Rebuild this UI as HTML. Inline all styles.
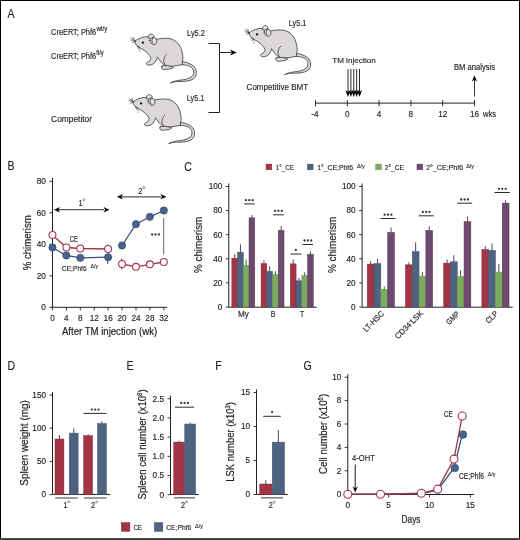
<!DOCTYPE html><html><head><meta charset="utf-8"><style>html,body{margin:0;padding:0;background:#fff;}svg{display:block;font-family:"Liberation Sans",sans-serif;will-change:transform;} text{stroke:#231f20;stroke-width:0.15px;} text[font-size="10.6"],text[font-size="10"]{stroke-width:0.2px;}</style></head><body>
<svg width="520" height="540" viewBox="0 0 520 540" fill="#231f20">
<rect x="0" y="0" width="520" height="540" fill="#fff"/>
<defs><g id="m"><g stroke="#2e2e2e" stroke-width="0.75" stroke-linejoin="round" stroke-linecap="round" fill="#dcd8d8">
<path d="M181.8,61.6 C186.5,62.2 191.5,63.6 194.6,67.2 C197.2,70.6 196.9,75.8 193.9,78.5 C190.6,81.1 184.5,81.6 178.5,81.5 C175.5,81.5 172.8,82 170.4,83 C172.8,81.6 175.6,80.8 179,80.3 C184.5,79.8 189.4,78.8 192,76.4 C194.3,74 194.2,70.3 192.1,67.9 C189.5,65.2 185.5,64.8 182,64.8 Z"/>
<path d="M134.8,41.3 C136.6,39.6 140,37.8 144,37 C148,36.3 152.5,36.6 156.5,39.3 C160.5,38.4 166,37.6 171,38.9 C176.5,40.5 180.6,45.5 182,51.5 C183.2,56 183.1,59.8 182.4,61.8 L182.2,64.6 C179,65.3 175.5,65.8 172,66.2 L167,66.3 C163.5,65 161,62.5 159.6,60.2 C158.7,58.6 158,57.4 157.4,57 C156.9,59 156.1,61 154.9,62.5 C153.3,64.3 150.6,65.3 148.1,65.1 C146,64.8 145.7,62.9 147.5,62.1 C149.5,61.3 150.9,59.8 150.9,57.8 C149.6,54.8 146.8,52.2 143.8,50 C141.8,48.7 139.8,48 138,46.8 C136.4,45.6 135.3,43.6 134.8,41.3 Z"/>
<path fill="none" d="M166.6,54.4 C164.6,55.9 163.5,59 163.8,62 C164,63.5 165,64.8 166,65.5"/>
<path d="M162,66 C165,65.2 170,65.7 173.6,67.2 C172.6,68.8 168,69.3 163.5,69.6 C161.5,69.3 161,67 162,66 Z"/>
<path fill="#e8e6e7" d="M148.1,37.6 C148.2,35.2 149.7,33.9 151.1,33.9 C152.7,33.9 153.9,35.2 154.1,36.8 L151,38.4 Z"/>
<path fill="#e2e0e1" d="M150,40.6 C149.8,38.6 151,37.4 152.8,37.5 C155,37.6 156.8,39 156.8,41.2 C156.8,43.4 155.3,44.7 153.7,44.6 C151.8,44.5 150.2,42.6 150,40.6 Z"/>
<path fill="none" d="M152.7,38.2 C151.6,39.6 151.6,41.9 152.9,43.3"/>
<circle cx="142.9" cy="42.7" r="1.15" fill="#111" stroke="none"/>
<path fill="none" stroke-width="0.55" d="M135,41.2 L130.8,37.8 M135,41.4 L130.6,40 M134.9,41.6 L132,42.8 M134.8,41 L133.6,37.4 M135.1,41.2 L132.6,38.6"/>
<path fill="none" stroke-width="1.1" d="M137.5,46.2 L139.4,47.4"/>
<path fill="none" stroke="#8a8a8a" stroke-width="0.65" d="M137.9,46.8 L138.4,49.3 M139.6,47.8 L139.9,52"/>
</g>
</g></defs>
<text font-size="12.6" transform="translate(7.5 17.6) scale(0.84 1)">A</text>
<text font-size="12.6" transform="translate(7.6 170.3) scale(0.84 1)">B</text>
<text font-size="12.6" transform="translate(184.2 170.8) scale(0.84 1)">C</text>
<text font-size="12.6" transform="translate(7.6 369.8) scale(0.84 1)">D</text>
<text font-size="12.6" transform="translate(126.5 369.5) scale(0.84 1)">E</text>
<text font-size="12.6" transform="translate(215.3 369.8) scale(0.84 1)">F</text>
<text font-size="12.6" transform="translate(303.6 369.8) scale(0.84 1)">G</text>
<text x="51.1" y="34.8" font-size="8.3" textLength="45" lengthAdjust="spacingAndGlyphs">CreERT; Phf6</text>
<text x="96.4" y="30.8" font-size="6.3" textLength="11" lengthAdjust="spacingAndGlyphs">wt/y</text>
<text x="51.1" y="59" font-size="8.3" textLength="45" lengthAdjust="spacingAndGlyphs">CreERT; Phf6</text>
<text x="96.3" y="55" font-size="6.3" textLength="7.4" lengthAdjust="spacingAndGlyphs">fl/y</text>
<text x="51.1" y="121.9" font-size="8.3" textLength="40.9" lengthAdjust="spacingAndGlyphs">Competitor</text>
<text x="187" y="35.5" font-size="8.3" textLength="18" lengthAdjust="spacingAndGlyphs">Ly5.2</text>
<text x="186.8" y="100.8" font-size="8.3" textLength="17.5" lengthAdjust="spacingAndGlyphs">Ly5.1</text>
<text x="288.8" y="26" font-size="8.3" textLength="17.4" lengthAdjust="spacingAndGlyphs">Ly5.1</text>
<text x="246.6" y="90.2" font-size="8.3" textLength="61.5" lengthAdjust="spacingAndGlyphs">Competitive BMT</text>
<use href="#m"/>
<use href="#m" transform="translate(-1.8,60.7)"/>
<use href="#m" transform="translate(114.2,-8.3)"/>
<path d="M208.5,43.5 H219.5 V112.5 H208.5" fill="none" stroke="#231f20" stroke-width="1"/>
<line x1="219.5" y1="52.5" x2="231.5" y2="52.5" stroke="#231f20" stroke-width="1"/>
<path d="M236.8,52.5 L230,49.5 L231.9,52.5 L230,55.5 Z" fill="#000"/>
<line x1="315.5" y1="103.1" x2="474.5" y2="103.1" stroke="#231f20" stroke-width="1"/>
<line x1="315.5" y1="100" x2="315.5" y2="106.3" stroke="#231f20" stroke-width="0.9"/>
<text font-size="8.2" transform="translate(315 116.7) scale(1 1)" text-anchor="middle">-4</text>
<line x1="347.3" y1="100" x2="347.3" y2="106.3" stroke="#231f20" stroke-width="0.9"/>
<text font-size="8.2" transform="translate(347.3 116.7) scale(1 1)" text-anchor="middle">0</text>
<line x1="379.1" y1="100" x2="379.1" y2="106.3" stroke="#231f20" stroke-width="0.9"/>
<text font-size="8.2" transform="translate(379.1 116.7) scale(1 1)" text-anchor="middle">4</text>
<line x1="410.9" y1="100" x2="410.9" y2="106.3" stroke="#231f20" stroke-width="0.9"/>
<text font-size="8.2" transform="translate(410.9 116.7) scale(1 1)" text-anchor="middle">8</text>
<line x1="442.7" y1="100" x2="442.7" y2="106.3" stroke="#231f20" stroke-width="0.9"/>
<text font-size="8.2" transform="translate(442.7 116.7) scale(1 1)" text-anchor="middle">12</text>
<line x1="474.5" y1="100" x2="474.5" y2="106.3" stroke="#231f20" stroke-width="0.9"/>
<text font-size="8.2" transform="translate(474.5 116.7) scale(1 1)" text-anchor="middle">16</text>
<text x="483" y="116.7" font-size="8.2" textLength="13" lengthAdjust="spacingAndGlyphs">wks</text>
<text x="332.2" y="63.4" font-size="8" textLength="43.6" lengthAdjust="spacingAndGlyphs">TM injection</text>
<line x1="348" y1="69" x2="348" y2="92" stroke="#000" stroke-width="0.85"/>
<path d="M348,96.9 L345.4,90.1 L348,92 L350.6,90.1 Z" fill="#000"/>
<line x1="350.88" y1="69" x2="350.88" y2="92" stroke="#000" stroke-width="0.85"/>
<path d="M350.88,96.9 L348.28,90.1 L350.88,92 L353.48,90.1 Z" fill="#000"/>
<line x1="353.76" y1="69" x2="353.76" y2="92" stroke="#000" stroke-width="0.85"/>
<path d="M353.76,96.9 L351.16,90.1 L353.76,92 L356.36,90.1 Z" fill="#000"/>
<line x1="356.64" y1="69" x2="356.64" y2="92" stroke="#000" stroke-width="0.85"/>
<path d="M356.64,96.9 L354.04,90.1 L356.64,92 L359.24,90.1 Z" fill="#000"/>
<line x1="359.52" y1="69" x2="359.52" y2="92" stroke="#000" stroke-width="0.85"/>
<path d="M359.52,96.9 L356.92,90.1 L359.52,92 L362.12,90.1 Z" fill="#000"/>
<line x1="474.5" y1="96.5" x2="474.5" y2="80" stroke="#231f20" stroke-width="0.9"/>
<path d="M474.5,75.5 L471.8,81.5 L474.5,79.82 L477.2,81.5 Z" fill="#000"/>
<text x="453.9" y="69.9" font-size="8.2" textLength="41.2" lengthAdjust="spacingAndGlyphs">BM analysis</text>
<path d="M52.5,178 V307.3 H167" fill="none" stroke="#231f20" stroke-width="1"/>
<line x1="49.5" y1="307.3" x2="52.5" y2="307.3" stroke="#231f20" stroke-width="0.9"/>
<text font-size="8.2" transform="translate(45.8 310.1) scale(1 1)" text-anchor="end">0</text>
<line x1="49.5" y1="275.8" x2="52.5" y2="275.8" stroke="#231f20" stroke-width="0.9"/>
<text font-size="8.2" transform="translate(45.8 278.6) scale(1 1)" text-anchor="end">20</text>
<line x1="49.5" y1="244.3" x2="52.5" y2="244.3" stroke="#231f20" stroke-width="0.9"/>
<text font-size="8.2" transform="translate(45.8 247.1) scale(1 1)" text-anchor="end">40</text>
<line x1="49.5" y1="212.8" x2="52.5" y2="212.8" stroke="#231f20" stroke-width="0.9"/>
<text font-size="8.2" transform="translate(45.8 215.6) scale(1 1)" text-anchor="end">60</text>
<line x1="49.5" y1="181.3" x2="52.5" y2="181.3" stroke="#231f20" stroke-width="0.9"/>
<text font-size="8.2" transform="translate(45.8 184.1) scale(1 1)" text-anchor="end">80</text>
<line x1="52.45" y1="307.3" x2="52.45" y2="310.4" stroke="#231f20" stroke-width="0.9"/>
<text font-size="8.2" transform="translate(52.45 320.9) scale(1 1)" text-anchor="middle">0</text>
<line x1="66.37" y1="307.3" x2="66.37" y2="310.4" stroke="#231f20" stroke-width="0.9"/>
<text font-size="8.2" transform="translate(66.37 320.9) scale(1 1)" text-anchor="middle">4</text>
<line x1="80.29" y1="307.3" x2="80.29" y2="310.4" stroke="#231f20" stroke-width="0.9"/>
<text font-size="8.2" transform="translate(80.29 320.9) scale(1 1)" text-anchor="middle">8</text>
<line x1="94.21" y1="307.3" x2="94.21" y2="310.4" stroke="#231f20" stroke-width="0.9"/>
<text font-size="8.2" transform="translate(94.21 320.9) scale(1 1)" text-anchor="middle">12</text>
<line x1="108.13" y1="307.3" x2="108.13" y2="310.4" stroke="#231f20" stroke-width="0.9"/>
<text font-size="8.2" transform="translate(108.13 320.9) scale(1 1)" text-anchor="middle">16</text>
<line x1="122.05" y1="307.3" x2="122.05" y2="310.4" stroke="#231f20" stroke-width="0.9"/>
<text font-size="8.2" transform="translate(122.05 320.9) scale(1 1)" text-anchor="middle">20</text>
<line x1="135.97" y1="307.3" x2="135.97" y2="310.4" stroke="#231f20" stroke-width="0.9"/>
<text font-size="8.2" transform="translate(135.97 320.9) scale(1 1)" text-anchor="middle">24</text>
<line x1="149.89" y1="307.3" x2="149.89" y2="310.4" stroke="#231f20" stroke-width="0.9"/>
<text font-size="8.2" transform="translate(149.89 320.9) scale(1 1)" text-anchor="middle">28</text>
<line x1="163.81" y1="307.3" x2="163.81" y2="310.4" stroke="#231f20" stroke-width="0.9"/>
<text font-size="8.2" transform="translate(163.81 320.9) scale(1 1)" text-anchor="middle">32</text>
<text x="61.9" y="335.3" font-size="10.6" textLength="95.3" lengthAdjust="spacingAndGlyphs">After TM injection (wk)</text>
<text x="31.2" y="270.3" font-size="10.6" textLength="55.1" lengthAdjust="spacingAndGlyphs" transform="rotate(-90 31.2 270.3)">% chimerism</text>
<line x1="56" y1="209.7" x2="104" y2="209.7" stroke="#333" stroke-width="1"/>
<path d="M54,209.7 L60,206.9 L58.32,209.7 L60,212.5 Z" fill="#000"/>
<path d="M109.5,209.7 L103.5,206.9 L105.18,209.7 L103.5,212.5 Z" fill="#000"/>
<text font-size="8.2" transform="translate(78.6 205.9) scale(0.9 1)">1</text>
<circle cx="83.8" cy="199.83" r="0.95" fill="none" stroke="#6a6a6a" stroke-width="0.75"/>
<line x1="119" y1="196.8" x2="161" y2="196.8" stroke="#555" stroke-width="1.2"/>
<path d="M116.9,196.8 L122.9,194 L121.22,196.8 L122.9,199.6 Z" fill="#000"/>
<path d="M166.4,196.8 L160.4,194 L162.08,196.8 L160.4,199.6 Z" fill="#000"/>
<text font-size="8.2" transform="translate(138.2 193.6) scale(0.9 1)">2</text>
<circle cx="143.8" cy="187.53" r="0.95" fill="none" stroke="#6a6a6a" stroke-width="0.75"/>
<line x1="163.7" y1="218" x2="163.7" y2="254.5" stroke="#555" stroke-width="0.9"/>
<circle cx="152.15" cy="234.5" r="1.15" fill="#353535"/>
<circle cx="155.5" cy="234.5" r="1.15" fill="#353535"/>
<circle cx="158.85" cy="234.5" r="1.15" fill="#353535"/>
<line x1="107.8" y1="257" x2="107.8" y2="264" stroke="#444" stroke-width="1"/>
<line x1="107.8" y1="244.5" x2="107.8" y2="249" stroke="#444" stroke-width="1"/>
<line x1="121.8" y1="258.5" x2="121.8" y2="269.5" stroke="#444" stroke-width="1"/>
<path d="M52.45,235 L66.37,247.5 L80.29,248.5 L108.13,249" fill="none" stroke="#a5354a" stroke-width="1.3"/>
<path d="M52.45,247.5 L66.37,255.5 L80.29,257.8 L108.13,257.2" fill="none" stroke="#34507a" stroke-width="1.3"/>
<path d="M122.05,264 L135.97,266.8 L149.89,264.3 L163.81,262" fill="none" stroke="#a5354a" stroke-width="1.3"/>
<path d="M122.05,245.5 L135.97,224.2 L149.89,216.8 L163.81,210.5" fill="none" stroke="#34507a" stroke-width="1.3"/>
<circle cx="52.45" cy="247.5" r="3.65" fill="#4a6189" stroke="#2f4a75" stroke-width="0.6"/>
<circle cx="66.37" cy="255.5" r="3.65" fill="#4a6189" stroke="#2f4a75" stroke-width="0.6"/>
<circle cx="80.29" cy="257.8" r="3.65" fill="#4a6189" stroke="#2f4a75" stroke-width="0.6"/>
<circle cx="108.13" cy="257.2" r="3.65" fill="#4a6189" stroke="#2f4a75" stroke-width="0.6"/>
<circle cx="122.05" cy="245.5" r="3.65" fill="#4a6189" stroke="#2f4a75" stroke-width="0.6"/>
<circle cx="135.97" cy="224.2" r="3.65" fill="#4a6189" stroke="#2f4a75" stroke-width="0.6"/>
<circle cx="149.89" cy="216.8" r="3.65" fill="#4a6189" stroke="#2f4a75" stroke-width="0.6"/>
<circle cx="163.81" cy="210.5" r="3.65" fill="#4a6189" stroke="#2f4a75" stroke-width="0.6"/>
<circle cx="52.45" cy="235" r="3.45" fill="#fff" stroke="#a5354a" stroke-width="1.1"/>
<circle cx="66.37" cy="247.5" r="3.45" fill="#fff" stroke="#a5354a" stroke-width="1.1"/>
<circle cx="80.29" cy="248.5" r="3.45" fill="#fff" stroke="#a5354a" stroke-width="1.1"/>
<circle cx="108.13" cy="249" r="3.45" fill="#fff" stroke="#a5354a" stroke-width="1.1"/>
<circle cx="122.05" cy="264" r="3.45" fill="#fff" stroke="#a5354a" stroke-width="1.1"/>
<circle cx="135.97" cy="266.8" r="3.45" fill="#fff" stroke="#a5354a" stroke-width="1.1"/>
<circle cx="149.89" cy="264.3" r="3.45" fill="#fff" stroke="#a5354a" stroke-width="1.1"/>
<circle cx="163.81" cy="262" r="3.45" fill="#fff" stroke="#a5354a" stroke-width="1.1"/>
<text x="69.8" y="241.8" font-size="8.2" textLength="8.1" lengthAdjust="spacingAndGlyphs">CE</text>
<text x="61.8" y="271.1" font-size="8" textLength="24.9" lengthAdjust="spacingAndGlyphs">CE;Phf6</text>
<text x="90.6" y="268.4" font-size="5.2" textLength="7.6" lengthAdjust="spacingAndGlyphs" fill="#444">&#916;/y</text>
<rect x="266.1" y="164.1" width="5.7" height="5.7" fill="#a23644" stroke="#8a2536" stroke-width="0.5"/>
<text x="275.8" y="170.1" font-size="8" textLength="18.2" lengthAdjust="spacingAndGlyphs">1&#176;_CE</text>
<rect x="307.4" y="164.1" width="5.7" height="5.7" fill="#4e6380" stroke="#3a5074" stroke-width="0.5"/>
<text x="317.2" y="170.1" font-size="8" textLength="35.8" lengthAdjust="spacingAndGlyphs">1&#176;_CE;Phf6</text>
<text x="357" y="168" font-size="5.2" textLength="7.8" lengthAdjust="spacingAndGlyphs" fill="#444">&#916;/y</text>
<rect x="375.7" y="164.1" width="5.7" height="5.7" fill="#7aab5e" stroke="#67994d" stroke-width="0.5"/>
<text x="384.8" y="170.1" font-size="8" textLength="19.2" lengthAdjust="spacingAndGlyphs">2&#176;_CE</text>
<rect x="417" y="164.1" width="5.7" height="5.7" fill="#6d4a6d" stroke="#583858" stroke-width="0.5"/>
<text x="426.2" y="170.1" font-size="8" textLength="36.9" lengthAdjust="spacingAndGlyphs">2&#176;_CE;Phf6</text>
<text x="466.2" y="168" font-size="5.2" textLength="7.8" lengthAdjust="spacingAndGlyphs" fill="#444">&#916;/y</text>
<path d="M228.8,183.5 V307.2 H316.8" fill="none" stroke="#231f20" stroke-width="1"/>
<line x1="225.9" y1="307" x2="228.8" y2="307" stroke="#231f20" stroke-width="0.9"/>
<text font-size="8.2" transform="translate(222.3 309.8) scale(1 1)" text-anchor="end">0</text>
<line x1="225.9" y1="282.9" x2="228.8" y2="282.9" stroke="#231f20" stroke-width="0.9"/>
<text font-size="8.2" transform="translate(222.3 285.7) scale(1 1)" text-anchor="end">20</text>
<line x1="225.9" y1="258.8" x2="228.8" y2="258.8" stroke="#231f20" stroke-width="0.9"/>
<text font-size="8.2" transform="translate(222.3 261.6) scale(1 1)" text-anchor="end">40</text>
<line x1="225.9" y1="234.7" x2="228.8" y2="234.7" stroke="#231f20" stroke-width="0.9"/>
<text font-size="8.2" transform="translate(222.3 237.5) scale(1 1)" text-anchor="end">60</text>
<line x1="225.9" y1="210.6" x2="228.8" y2="210.6" stroke="#231f20" stroke-width="0.9"/>
<text font-size="8.2" transform="translate(222.3 213.4) scale(1 1)" text-anchor="end">80</text>
<line x1="225.9" y1="186.5" x2="228.8" y2="186.5" stroke="#231f20" stroke-width="0.9"/>
<text font-size="8.2" transform="translate(222.3 189.3) scale(1 1)" text-anchor="end">100</text>
<rect x="231.85" y="258.2" width="5.73" height="48.8" fill="#a23644" stroke="#8a2536" stroke-width="0.5"/>
<line x1="234.72" y1="258.2" x2="234.72" y2="254.34" stroke="#3a3a3a" stroke-width="0.9"/>
<rect x="237.58" y="252.17" width="5.73" height="54.83" fill="#4e6380" stroke="#3a5074" stroke-width="0.5"/>
<line x1="240.44" y1="252.17" x2="240.44" y2="244.34" stroke="#3a3a3a" stroke-width="0.9"/>
<rect x="243.31" y="265.31" width="5.73" height="41.69" fill="#7aab5e" stroke="#67994d" stroke-width="0.5"/>
<line x1="246.18" y1="265.31" x2="246.18" y2="259.52" stroke="#3a3a3a" stroke-width="0.9"/>
<rect x="249.04" y="217.83" width="5.73" height="89.17" fill="#6d4a6d" stroke="#583858" stroke-width="0.5"/>
<line x1="251.91" y1="217.83" x2="251.91" y2="215.06" stroke="#3a3a3a" stroke-width="0.9"/>
<rect x="261.1" y="263.62" width="5.73" height="43.38" fill="#a23644" stroke="#8a2536" stroke-width="0.5"/>
<line x1="263.97" y1="263.62" x2="263.97" y2="260.25" stroke="#3a3a3a" stroke-width="0.9"/>
<rect x="266.83" y="271.33" width="5.73" height="35.67" fill="#4e6380" stroke="#3a5074" stroke-width="0.5"/>
<line x1="269.7" y1="271.33" x2="269.7" y2="266.27" stroke="#3a3a3a" stroke-width="0.9"/>
<rect x="272.56" y="274.46" width="5.73" height="32.54" fill="#7aab5e" stroke="#67994d" stroke-width="0.5"/>
<line x1="275.43" y1="274.46" x2="275.43" y2="271.21" stroke="#3a3a3a" stroke-width="0.9"/>
<rect x="278.29" y="230.36" width="5.73" height="76.64" fill="#6d4a6d" stroke="#583858" stroke-width="0.5"/>
<line x1="281.16" y1="230.36" x2="281.16" y2="226.02" stroke="#3a3a3a" stroke-width="0.9"/>
<rect x="290.35" y="263.86" width="5.73" height="43.14" fill="#a23644" stroke="#8a2536" stroke-width="0.5"/>
<line x1="293.22" y1="263.86" x2="293.22" y2="259.52" stroke="#3a3a3a" stroke-width="0.9"/>
<rect x="296.08" y="280.85" width="5.73" height="26.15" fill="#4e6380" stroke="#3a5074" stroke-width="0.5"/>
<line x1="298.95" y1="280.85" x2="298.95" y2="277.84" stroke="#3a3a3a" stroke-width="0.9"/>
<rect x="301.81" y="275.67" width="5.73" height="31.33" fill="#7aab5e" stroke="#67994d" stroke-width="0.5"/>
<line x1="304.68" y1="275.67" x2="304.68" y2="272.3" stroke="#3a3a3a" stroke-width="0.9"/>
<rect x="307.54" y="254.34" width="5.73" height="52.66" fill="#6d4a6d" stroke="#583858" stroke-width="0.5"/>
<line x1="310.41" y1="254.34" x2="310.41" y2="251.33" stroke="#3a3a3a" stroke-width="0.9"/>
<text x="201.9" y="273" font-size="10.6" textLength="56.3" lengthAdjust="spacingAndGlyphs" transform="rotate(-90 201.9 273)">% chimerism</text>
<text x="238" y="317.4" font-size="8.2" textLength="10.8" lengthAdjust="spacingAndGlyphs">My</text>
<text x="270.7" y="317.4" font-size="8.2" textLength="4.6" lengthAdjust="spacingAndGlyphs">B</text>
<text x="299.9" y="317.4" font-size="8.2" textLength="4.2" lengthAdjust="spacingAndGlyphs">T</text>
<line x1="244.1" y1="203.9" x2="254.8" y2="203.9" stroke="#2b2b2b" stroke-width="1"/>
<circle cx="245.95" cy="200.2" r="1.15" fill="#353535"/>
<circle cx="249.3" cy="200.2" r="1.15" fill="#353535"/>
<circle cx="252.65" cy="200.2" r="1.15" fill="#353535"/>
<line x1="273" y1="214.8" x2="283.8" y2="214.8" stroke="#2b2b2b" stroke-width="1"/>
<circle cx="275.05" cy="210.8" r="1.15" fill="#353535"/>
<circle cx="278.4" cy="210.8" r="1.15" fill="#353535"/>
<circle cx="281.75" cy="210.8" r="1.15" fill="#353535"/>
<line x1="290.5" y1="254" x2="301.5" y2="254" stroke="#2b2b2b" stroke-width="1"/>
<circle cx="295.8" cy="249.9" r="1.15" fill="#353535"/>
<line x1="302.5" y1="244.5" x2="313" y2="244.5" stroke="#2b2b2b" stroke-width="1"/>
<circle cx="304.5" cy="240.5" r="1.15" fill="#353535"/>
<circle cx="307.85" cy="240.5" r="1.15" fill="#353535"/>
<circle cx="311.2" cy="240.5" r="1.15" fill="#353535"/>
<path d="M362.1,183.5 V307.2 H512.7" fill="none" stroke="#231f20" stroke-width="1"/>
<line x1="359.2" y1="307" x2="362.1" y2="307" stroke="#231f20" stroke-width="0.9"/>
<text font-size="8.2" transform="translate(355.6 309.8) scale(1 1)" text-anchor="end">0</text>
<line x1="359.2" y1="282.9" x2="362.1" y2="282.9" stroke="#231f20" stroke-width="0.9"/>
<text font-size="8.2" transform="translate(355.6 285.7) scale(1 1)" text-anchor="end">20</text>
<line x1="359.2" y1="258.8" x2="362.1" y2="258.8" stroke="#231f20" stroke-width="0.9"/>
<text font-size="8.2" transform="translate(355.6 261.6) scale(1 1)" text-anchor="end">40</text>
<line x1="359.2" y1="234.7" x2="362.1" y2="234.7" stroke="#231f20" stroke-width="0.9"/>
<text font-size="8.2" transform="translate(355.6 237.5) scale(1 1)" text-anchor="end">60</text>
<line x1="359.2" y1="210.6" x2="362.1" y2="210.6" stroke="#231f20" stroke-width="0.9"/>
<text font-size="8.2" transform="translate(355.6 213.4) scale(1 1)" text-anchor="end">80</text>
<line x1="359.2" y1="186.5" x2="362.1" y2="186.5" stroke="#231f20" stroke-width="0.9"/>
<text font-size="8.2" transform="translate(355.6 189.3) scale(1 1)" text-anchor="end">100</text>
<rect x="367.25" y="264.1" width="6.8" height="42.9" fill="#a23644" stroke="#8a2536" stroke-width="0.5"/>
<line x1="370.65" y1="264.1" x2="370.65" y2="261.21" stroke="#3a3a3a" stroke-width="0.9"/>
<rect x="374.05" y="263.62" width="6.8" height="43.38" fill="#4e6380" stroke="#3a5074" stroke-width="0.5"/>
<line x1="377.45" y1="263.62" x2="377.45" y2="258.8" stroke="#3a3a3a" stroke-width="0.9"/>
<rect x="380.85" y="289.41" width="6.8" height="17.59" fill="#7aab5e" stroke="#67994d" stroke-width="0.5"/>
<line x1="384.25" y1="289.41" x2="384.25" y2="286.51" stroke="#3a3a3a" stroke-width="0.9"/>
<rect x="387.65" y="232.41" width="6.8" height="74.59" fill="#6d4a6d" stroke="#583858" stroke-width="0.5"/>
<line x1="391.05" y1="232.41" x2="391.05" y2="227.47" stroke="#3a3a3a" stroke-width="0.9"/>
<rect x="405.45" y="264.82" width="6.8" height="42.18" fill="#a23644" stroke="#8a2536" stroke-width="0.5"/>
<line x1="408.85" y1="264.82" x2="408.85" y2="262.42" stroke="#3a3a3a" stroke-width="0.9"/>
<rect x="412.25" y="251.57" width="6.8" height="55.43" fill="#4e6380" stroke="#3a5074" stroke-width="0.5"/>
<line x1="415.65" y1="251.57" x2="415.65" y2="242.29" stroke="#3a3a3a" stroke-width="0.9"/>
<rect x="419.05" y="276.15" width="6.8" height="30.85" fill="#7aab5e" stroke="#67994d" stroke-width="0.5"/>
<line x1="422.45" y1="276.15" x2="422.45" y2="271.81" stroke="#3a3a3a" stroke-width="0.9"/>
<rect x="425.85" y="230.36" width="6.8" height="76.64" fill="#6d4a6d" stroke="#583858" stroke-width="0.5"/>
<line x1="429.25" y1="230.36" x2="429.25" y2="226.26" stroke="#3a3a3a" stroke-width="0.9"/>
<rect x="443.65" y="263.14" width="6.8" height="43.86" fill="#a23644" stroke="#8a2536" stroke-width="0.5"/>
<line x1="447.05" y1="263.14" x2="447.05" y2="259.4" stroke="#3a3a3a" stroke-width="0.9"/>
<rect x="450.45" y="261.81" width="6.8" height="45.19" fill="#4e6380" stroke="#3a5074" stroke-width="0.5"/>
<line x1="453.85" y1="261.81" x2="453.85" y2="255.19" stroke="#3a3a3a" stroke-width="0.9"/>
<rect x="457.25" y="276.63" width="6.8" height="30.37" fill="#7aab5e" stroke="#67994d" stroke-width="0.5"/>
<line x1="460.65" y1="276.63" x2="460.65" y2="270.49" stroke="#3a3a3a" stroke-width="0.9"/>
<rect x="464.05" y="221.69" width="6.8" height="85.31" fill="#6d4a6d" stroke="#583858" stroke-width="0.5"/>
<line x1="467.45" y1="221.69" x2="467.45" y2="216.38" stroke="#3a3a3a" stroke-width="0.9"/>
<rect x="481.85" y="249.52" width="6.8" height="57.48" fill="#a23644" stroke="#8a2536" stroke-width="0.5"/>
<line x1="485.25" y1="249.52" x2="485.25" y2="246.15" stroke="#3a3a3a" stroke-width="0.9"/>
<rect x="488.65" y="250.37" width="6.8" height="56.63" fill="#4e6380" stroke="#3a5074" stroke-width="0.5"/>
<line x1="492.05" y1="250.37" x2="492.05" y2="243.38" stroke="#3a3a3a" stroke-width="0.9"/>
<rect x="495.45" y="272.06" width="6.8" height="34.94" fill="#7aab5e" stroke="#67994d" stroke-width="0.5"/>
<line x1="498.85" y1="272.06" x2="498.85" y2="263.98" stroke="#3a3a3a" stroke-width="0.9"/>
<rect x="502.25" y="203.13" width="6.8" height="103.87" fill="#6d4a6d" stroke="#583858" stroke-width="0.5"/>
<line x1="505.65" y1="203.13" x2="505.65" y2="200.36" stroke="#3a3a3a" stroke-width="0.9"/>
<text x="335.8" y="273" font-size="10.6" textLength="56.3" lengthAdjust="spacingAndGlyphs" transform="rotate(-90 335.8 273)">% chimerism</text>
<line x1="380.5" y1="218.5" x2="395.5" y2="218.5" stroke="#2b2b2b" stroke-width="1"/>
<circle cx="384.65" cy="214.7" r="1.15" fill="#353535"/>
<circle cx="388" cy="214.7" r="1.15" fill="#353535"/>
<circle cx="391.35" cy="214.7" r="1.15" fill="#353535"/>
<line x1="418.5" y1="215.8" x2="433.8" y2="215.8" stroke="#2b2b2b" stroke-width="1"/>
<circle cx="422.8" cy="211.9" r="1.15" fill="#353535"/>
<circle cx="426.15" cy="211.9" r="1.15" fill="#353535"/>
<circle cx="429.5" cy="211.9" r="1.15" fill="#353535"/>
<line x1="457" y1="203.2" x2="472.2" y2="203.2" stroke="#2b2b2b" stroke-width="1"/>
<circle cx="461.25" cy="199.5" r="1.15" fill="#353535"/>
<circle cx="464.6" cy="199.5" r="1.15" fill="#353535"/>
<circle cx="467.95" cy="199.5" r="1.15" fill="#353535"/>
<line x1="494.5" y1="192.5" x2="509.8" y2="192.5" stroke="#2b2b2b" stroke-width="1"/>
<circle cx="498.95" cy="188.8" r="1.15" fill="#353535"/>
<circle cx="502.3" cy="188.8" r="1.15" fill="#353535"/>
<circle cx="505.65" cy="188.8" r="1.15" fill="#353535"/>
<text x="384.6" y="314.1" font-size="8" text-anchor="end" textLength="26.1" lengthAdjust="spacingAndGlyphs" transform="rotate(-45 384.6 314.1)">LT-HSC</text>
<text x="423.6" y="313.9" font-size="8" text-anchor="end" textLength="36.1" lengthAdjust="spacingAndGlyphs" transform="rotate(-45 423.6 313.9)">CD34<tspan font-size="5" dy="-3">-</tspan><tspan dy="3">LSK</tspan></text>
<text x="460.1" y="314.5" font-size="8" text-anchor="end" textLength="15.2" lengthAdjust="spacingAndGlyphs" transform="rotate(-45 460.1 314.5)">GMP</text>
<text x="498.6" y="314.2" font-size="8" text-anchor="end" textLength="14" lengthAdjust="spacingAndGlyphs" transform="rotate(-45 498.6 314.2)">CLP</text>
<path d="M52.5,392.2 V494.4 H110.4" fill="none" stroke="#231f20" stroke-width="1"/>
<line x1="49.6" y1="494.6" x2="52.5" y2="494.6" stroke="#231f20" stroke-width="0.9"/>
<text font-size="8.2" transform="translate(46 497.4) scale(1 1)" text-anchor="end">0</text>
<line x1="49.6" y1="461.4" x2="52.5" y2="461.4" stroke="#231f20" stroke-width="0.9"/>
<text font-size="8.2" transform="translate(46 464.2) scale(1 1)" text-anchor="end">50</text>
<line x1="49.6" y1="428.2" x2="52.5" y2="428.2" stroke="#231f20" stroke-width="0.9"/>
<text font-size="8.2" transform="translate(46 431) scale(1 1)" text-anchor="end">100</text>
<line x1="49.6" y1="395" x2="52.5" y2="395" stroke="#231f20" stroke-width="0.9"/>
<text font-size="8.2" transform="translate(46 397.8) scale(1 1)" text-anchor="end">150</text>
<rect x="55" y="439.02" width="8.9" height="55.58" fill="#a23644" stroke="#8a2536" stroke-width="0.5"/>
<line x1="59.45" y1="439.02" x2="59.45" y2="434.97" stroke="#3a3a3a" stroke-width="0.9"/>
<rect x="69.25" y="433.11" width="8.9" height="61.49" fill="#4e6380" stroke="#3a5074" stroke-width="0.5"/>
<line x1="73.7" y1="433.11" x2="73.7" y2="428.4" stroke="#3a3a3a" stroke-width="0.9"/>
<rect x="83.65" y="435.64" width="8.9" height="58.96" fill="#a23644" stroke="#8a2536" stroke-width="0.5"/>
<line x1="88.1" y1="435.64" x2="88.1" y2="434.04" stroke="#3a3a3a" stroke-width="0.9"/>
<rect x="97.5" y="423.55" width="8.9" height="71.05" fill="#4e6380" stroke="#3a5074" stroke-width="0.5"/>
<line x1="101.95" y1="423.55" x2="101.95" y2="421.23" stroke="#3a3a3a" stroke-width="0.9"/>
<line x1="55.1" y1="498" x2="77.8" y2="498" stroke="#7a7a7a" stroke-width="1.5"/>
<line x1="84" y1="498" x2="106.6" y2="498" stroke="#7a7a7a" stroke-width="1.5"/>
<text font-size="8.2" transform="translate(63.4 507.9) scale(0.9 1)">1</text>
<circle cx="68.7" cy="501.83" r="0.95" fill="none" stroke="#6a6a6a" stroke-width="0.75"/>
<text font-size="8.2" transform="translate(91 507.9) scale(0.9 1)">2</text>
<circle cx="96.6" cy="501.83" r="0.95" fill="none" stroke="#6a6a6a" stroke-width="0.75"/>
<line x1="83.5" y1="413.4" x2="106.5" y2="413.4" stroke="#2b2b2b" stroke-width="1"/>
<circle cx="91.85" cy="409.6" r="1.15" fill="#353535"/>
<circle cx="95.2" cy="409.6" r="1.15" fill="#353535"/>
<circle cx="98.55" cy="409.6" r="1.15" fill="#353535"/>
<text x="28.2" y="485.7" font-size="10.6" textLength="85.5" lengthAdjust="spacingAndGlyphs" transform="rotate(-90 28.2 485.7)">Spleen weight (mg)</text>
<path d="M170.5,395.8 V494.5 H198.8" fill="none" stroke="#231f20" stroke-width="1"/>
<line x1="167.6" y1="494.7" x2="170.5" y2="494.7" stroke="#231f20" stroke-width="0.9"/>
<text font-size="8.2" transform="translate(164 497.5) scale(1 1)" text-anchor="end">0</text>
<line x1="167.6" y1="475.5" x2="170.5" y2="475.5" stroke="#231f20" stroke-width="0.9"/>
<text font-size="8.2" transform="translate(164 478.3) scale(1 1)" text-anchor="end">0.5</text>
<line x1="167.6" y1="456.3" x2="170.5" y2="456.3" stroke="#231f20" stroke-width="0.9"/>
<text font-size="8.2" transform="translate(164 459.1) scale(1 1)" text-anchor="end">1.0</text>
<line x1="167.6" y1="437.1" x2="170.5" y2="437.1" stroke="#231f20" stroke-width="0.9"/>
<text font-size="8.2" transform="translate(164 439.9) scale(1 1)" text-anchor="end">1.5</text>
<line x1="167.6" y1="417.9" x2="170.5" y2="417.9" stroke="#231f20" stroke-width="0.9"/>
<text font-size="8.2" transform="translate(164 420.7) scale(1 1)" text-anchor="end">2.0</text>
<line x1="167.6" y1="398.7" x2="170.5" y2="398.7" stroke="#231f20" stroke-width="0.9"/>
<text font-size="8.2" transform="translate(164 401.5) scale(1 1)" text-anchor="end">2.5</text>
<rect x="173.75" y="442.09" width="10.75" height="52.61" fill="#a23644" stroke="#8a2536" stroke-width="0.5"/>
<line x1="179.1" y1="442.09" x2="179.1" y2="440.8" stroke="#3a3a3a" stroke-width="0.9"/>
<rect x="184.75" y="424.04" width="10.8" height="70.66" fill="#4e6380" stroke="#3a5074" stroke-width="0.5"/>
<line x1="190.2" y1="424.04" x2="190.2" y2="422.5" stroke="#3a3a3a" stroke-width="0.9"/>
<line x1="174" y1="497.8" x2="195" y2="497.8" stroke="#7a7a7a" stroke-width="1.5"/>
<text font-size="8.2" transform="translate(180.9 508) scale(0.9 1)">2</text>
<circle cx="186.5" cy="501.93" r="0.95" fill="none" stroke="#6a6a6a" stroke-width="0.75"/>
<line x1="175" y1="407.2" x2="194" y2="407.2" stroke="#2b2b2b" stroke-width="1"/>
<circle cx="181.25" cy="402.9" r="1.15" fill="#353535"/>
<circle cx="184.6" cy="402.9" r="1.15" fill="#353535"/>
<circle cx="187.95" cy="402.9" r="1.15" fill="#353535"/>
<text x="146.2" y="499.4" font-size="10.6" transform="rotate(-90 146.2 499.4)" textLength="110" lengthAdjust="spacingAndGlyphs">Spleen cell number (x10<tspan font-size="6.5" dy="-4">8</tspan><tspan dy="4">)</tspan></text>
<path d="M256.5,389.5 V494.5 H287.8" fill="none" stroke="#231f20" stroke-width="1"/>
<line x1="253.6" y1="494.5" x2="256.5" y2="494.5" stroke="#231f20" stroke-width="0.9"/>
<text font-size="8.2" transform="translate(250 497.3) scale(1 1)" text-anchor="end">0</text>
<line x1="253.6" y1="460.5" x2="256.5" y2="460.5" stroke="#231f20" stroke-width="0.9"/>
<text font-size="8.2" transform="translate(250 463.3) scale(1 1)" text-anchor="end">5</text>
<line x1="253.6" y1="426.5" x2="256.5" y2="426.5" stroke="#231f20" stroke-width="0.9"/>
<text font-size="8.2" transform="translate(250 429.3) scale(1 1)" text-anchor="end">10</text>
<line x1="253.6" y1="392.5" x2="256.5" y2="392.5" stroke="#231f20" stroke-width="0.9"/>
<text font-size="8.2" transform="translate(250 395.3) scale(1 1)" text-anchor="end">15</text>
<rect x="259.75" y="484.03" width="12.25" height="10.47" fill="#a23644" stroke="#8a2536" stroke-width="0.5"/>
<line x1="265.8" y1="484.03" x2="265.8" y2="480.2" stroke="#3a3a3a" stroke-width="0.9"/>
<rect x="272.25" y="442.14" width="12.3" height="52.36" fill="#4e6380" stroke="#3a5074" stroke-width="0.5"/>
<line x1="278.4" y1="442.14" x2="278.4" y2="430" stroke="#3a3a3a" stroke-width="0.9"/>
<line x1="261" y1="497.8" x2="283" y2="497.8" stroke="#7a7a7a" stroke-width="1.5"/>
<text font-size="8.2" transform="translate(268.7 508.3) scale(0.9 1)">2</text>
<circle cx="274.3" cy="502.23" r="0.95" fill="none" stroke="#6a6a6a" stroke-width="0.75"/>
<line x1="263.2" y1="416.3" x2="280.8" y2="416.3" stroke="#2b2b2b" stroke-width="1"/>
<circle cx="272.1" cy="412.1" r="1.15" fill="#353535"/>
<text x="234.4" y="481.7" font-size="10.6" transform="rotate(-90 234.4 481.7)" textLength="79.5" lengthAdjust="spacingAndGlyphs">LSK number (x10<tspan font-size="6.5" dy="-4">3</tspan><tspan dy="4">)</tspan></text>
<rect x="121.4" y="522.6" width="8.5" height="8.7" fill="#a23644" stroke="#8a2536" stroke-width="0.5"/>
<text x="133.4" y="530.3" font-size="8" textLength="8.6" lengthAdjust="spacingAndGlyphs">CE</text>
<rect x="154.3" y="522.6" width="8.5" height="8.7" fill="#4e6380" stroke="#3a5074" stroke-width="0.5"/>
<text x="166.2" y="530.3" font-size="8" textLength="25.1" lengthAdjust="spacingAndGlyphs">CE;Phf6</text>
<text x="195" y="527.9" font-size="5.2" textLength="8" lengthAdjust="spacingAndGlyphs" fill="#444">&#916;/y</text>
<path d="M347.8,374.2 V494.5 H474" fill="none" stroke="#231f20" stroke-width="1"/>
<line x1="344.6" y1="494.2" x2="347.8" y2="494.2" stroke="#231f20" stroke-width="0.9"/>
<text font-size="8.2" transform="translate(341.3 497) scale(1 1)" text-anchor="end">0</text>
<line x1="344.6" y1="470.8" x2="347.8" y2="470.8" stroke="#231f20" stroke-width="0.9"/>
<text font-size="8.2" transform="translate(341.3 473.6) scale(1 1)" text-anchor="end">2</text>
<line x1="344.6" y1="447.4" x2="347.8" y2="447.4" stroke="#231f20" stroke-width="0.9"/>
<text font-size="8.2" transform="translate(341.3 450.2) scale(1 1)" text-anchor="end">4</text>
<line x1="344.6" y1="424" x2="347.8" y2="424" stroke="#231f20" stroke-width="0.9"/>
<text font-size="8.2" transform="translate(341.3 426.8) scale(1 1)" text-anchor="end">6</text>
<line x1="344.6" y1="400.6" x2="347.8" y2="400.6" stroke="#231f20" stroke-width="0.9"/>
<text font-size="8.2" transform="translate(341.3 403.4) scale(1 1)" text-anchor="end">8</text>
<line x1="344.6" y1="377.2" x2="347.8" y2="377.2" stroke="#231f20" stroke-width="0.9"/>
<text font-size="8.2" transform="translate(341.3 380) scale(1 1)" text-anchor="end">10</text>
<line x1="347.8" y1="494.5" x2="347.8" y2="497.5" stroke="#231f20" stroke-width="0.9"/>
<text font-size="8.2" transform="translate(347.8 508.2) scale(1 1)" text-anchor="middle">0</text>
<line x1="388.65" y1="494.5" x2="388.65" y2="497.5" stroke="#231f20" stroke-width="0.9"/>
<text font-size="8.2" transform="translate(388.65 508.2) scale(1 1)" text-anchor="middle">5</text>
<line x1="429.5" y1="494.5" x2="429.5" y2="497.5" stroke="#231f20" stroke-width="0.9"/>
<text font-size="8.2" transform="translate(429.5 508.2) scale(1 1)" text-anchor="middle">10</text>
<line x1="470.35" y1="494.5" x2="470.35" y2="497.5" stroke="#231f20" stroke-width="0.9"/>
<text font-size="8.2" transform="translate(470.35 508.2) scale(1 1)" text-anchor="middle">15</text>
<text x="401.5" y="522.5" font-size="10" textLength="19" lengthAdjust="spacingAndGlyphs">Days</text>
<text x="327" y="473.9" font-size="10.6" transform="rotate(-90 327 473.9)" textLength="80" lengthAdjust="spacingAndGlyphs">Cell number (x10<tspan font-size="6.5" dy="-4">6</tspan><tspan dy="4">)</tspan></text>
<text x="352" y="461.1" font-size="8.2" textLength="22.8" lengthAdjust="spacingAndGlyphs">4-OHT</text>
<line x1="355.2" y1="464.5" x2="355.2" y2="488" stroke="#000" stroke-width="0.9"/>
<path d="M355.2,492.5 L352.6,486.5 L355.2,488.18 L357.8,486.5 Z" fill="#000"/>
<path d="M347.8,494.2 L380.48,494.2 L421.33,493.62 L437.67,490.1 L454.01,467.99 L462.18,434.53" fill="none" stroke="#34507a" stroke-width="1.3"/>
<path d="M347.8,494.2 L380.48,494.2 L421.33,493.26 L437.67,489.17 L454.01,459.1 L462.18,416.04" fill="none" stroke="#a5354a" stroke-width="1.3"/>
<circle cx="454.81" cy="467.99" r="3.85" fill="#4a6189" stroke="#2f4a75" stroke-width="0.6"/>
<circle cx="462.98" cy="434.53" r="3.85" fill="#4a6189" stroke="#2f4a75" stroke-width="0.6"/>
<circle cx="347.8" cy="494.2" r="4" fill="#fff" stroke="#a5354a" stroke-width="1.1"/>
<circle cx="380.48" cy="494.2" r="4" fill="#fff" stroke="#a5354a" stroke-width="1.1"/>
<circle cx="421.33" cy="493.26" r="4" fill="#fff" stroke="#a5354a" stroke-width="1.1"/>
<circle cx="437.67" cy="489.17" r="4" fill="#fff" stroke="#a5354a" stroke-width="1.1"/>
<circle cx="454.01" cy="459.1" r="4" fill="#fff" stroke="#a5354a" stroke-width="1.1"/>
<circle cx="462.18" cy="416.04" r="4" fill="#fff" stroke="#a5354a" stroke-width="1.1"/>
<text x="444" y="417.3" font-size="8.2" textLength="8.7" lengthAdjust="spacingAndGlyphs">CE</text>
<text x="459" y="478.9" font-size="8.2" textLength="25" lengthAdjust="spacingAndGlyphs">CE;Phf6</text>
<text x="487.8" y="476.4" font-size="5.2" textLength="7.7" lengthAdjust="spacingAndGlyphs" fill="#444">&#916;/y</text>
<rect x="0" y="0" width="520" height="1" fill="#000"/>
<rect x="0" y="0" width="1" height="540" fill="#000"/>
<rect x="519" y="0" width="1" height="540" fill="#000"/>
<rect x="0" y="538" width="520" height="1" fill="#555"/>
<rect x="0" y="539" width="520" height="1" fill="#333"/>
</svg></body></html>
